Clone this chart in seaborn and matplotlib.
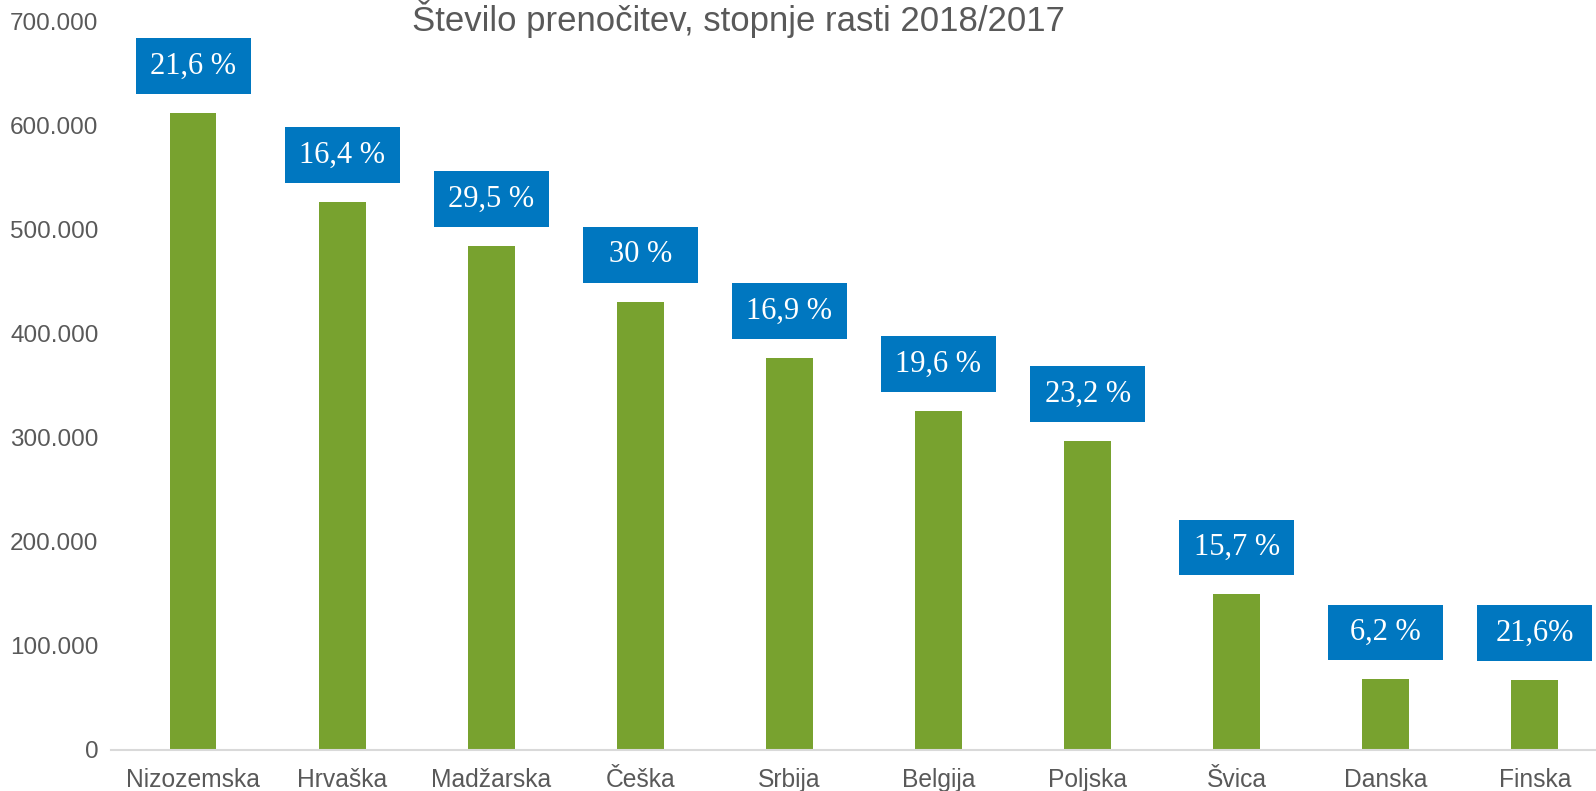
import matplotlib
matplotlib.use("Agg")
import matplotlib.pyplot as plt
from matplotlib.ticker import FuncFormatter
import seaborn as sns
import pandas as pd
import numpy as np

categories = ["Nizozemska", "Hrvaška", "Madžarska", "Češka", "Srbija",
              "Belgija", "Poljska", "Švica", "Danska", "Finska"]
nights = [612500, 527000, 484700, 431000, 377000, 326000, 297000, 149600, 68000, 67300]
growth_labels = ["21,6 %", "16,4 %", "29,5 %", "30 %", "16,9 %",
                 "19,6 %", "23,2 %", "15,7 %", "6,2 %", "21,6%"]
title = "Število prenočitev, stopnje rasti 2018/2017"

sns.set_theme(style="white")
plt.rcParams['font.family'] = ['Liberation Sans', 'DejaVu Sans']

W, H = 1596, 791
fig = plt.figure(figsize=(W / 100, H / 100), dpi=100)
ax = fig.add_axes([111 / W, 1 - 750 / H, (W - 111) / W, (750 - 21.7) / H])

df = pd.DataFrame({"country": categories, "nights": nights})
sns.barplot(data=df, x="country", y="nights", color="#78A22F", width=0.315,
            saturation=1, ax=ax, edgecolor="none")

ax.set_xlim(-0.55, 9.41)
ax.set_ylim(0, 700000)
ax.set_yticks(np.arange(0, 700001, 100000))
ax.yaxis.set_major_formatter(FuncFormatter(lambda v, p: f"{int(v):,}".replace(",", ".")))

# value label boxes (sizes in pixels converted to data units)
px_per_unit_y = (750 - 21.7) / 700000
px_per_unit_x = (W - 111) / (9.41 + 0.55)
box_h = 55.5 / px_per_unit_y
box_w = 115 / px_per_unit_x
gap = 19 / px_per_unit_y
xs = np.arange(len(categories))
bottoms = np.array(nights) + gap
ax.bar(xs, [box_h] * len(xs), bottom=bottoms, width=box_w, color="#0077C0",
       edgecolor="none", zorder=3, clip_on=False)
for x, b, lab in zip(xs, bottoms, growth_labels):
    ax.text(x, b + box_h / 2, lab, ha="center", va="center", color="white",
            fontsize=22, family=["Liberation Serif", "DejaVu Serif"], zorder=4)

for s in ["top", "right", "left"]:
    ax.spines[s].set_visible(False)
ax.spines["bottom"].set_color("#D9D9D9")
ax.spines["bottom"].set_linewidth(1.5)
ax.tick_params(axis="y", length=0, pad=9, labelsize=17.5, labelcolor="#595959")
ax.tick_params(axis="x", length=0, pad=13, labelsize=17.7, labelcolor="#595959")
ax.set_xlabel("")
ax.set_ylabel("")

fig.text(738 / W, 1 - 19 / H, title, ha="center", va="center",
         fontsize=25, color="#595959")

fig.savefig("out.png", dpi=100)
